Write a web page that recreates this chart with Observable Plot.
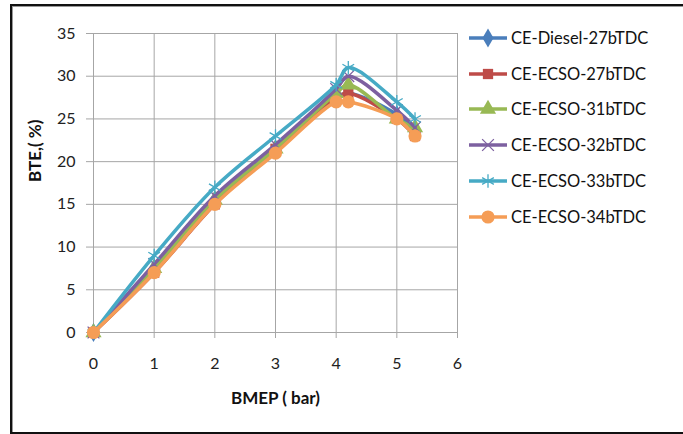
<!DOCTYPE html>
<html>
<head>
<meta charset="utf-8">
<script src="https://cdn.jsdelivr.net/npm/d3@7"></script>
<script src="https://cdn.jsdelivr.net/npm/@observablehq/plot@0.6"></script>
<style>
  html, body { margin: 0; padding: 0; background: #fff; }
  #wrap { position: relative; width: 683px; height: 434px; overflow: hidden; background: #fff; font-family: Lato, "Open Sans", sans-serif; }
  #frame { position: absolute; left: 10px; top: 4px; width: 700px; height: 426px; border: 2px solid #111; box-shadow: inset 1px 1px 0 #999; pointer-events: none; }
  #chart { position: absolute; left: 0; top: 0; }
  #legend { position: absolute; left: 467px; top: 28px; }
  .row { position: absolute; left: 0; height: 20px; white-space: nowrap; }
  .row svg { position: absolute; left: 0; top: 0; }
  .row span { position: absolute; left: 44px; top: 0; font-size: 16.5px; line-height: 20px; color: #111; }
</style>
</head>
<body>
<div id="wrap">
  <div id="chart"></div>
  <div id="legend"></div>
  <div id="frame"></div>
</div>
<script>
// ---- data ----
const bmep = [0, 1, 2, 3, 4, 4.2, 5, 5.3];
const seriesNames = ["CE-Diesel-27bTDC", "CE-ECSO-27bTDC", "CE-ECSO-31bTDC", "CE-ECSO-32bTDC", "CE-ECSO-33bTDC", "CE-ECSO-34bTDC"];
const diesel27 = [0, 7.5, 15.5, 21.5, 27.5, 28, 25.5, 23.5];
const ecso27   = [0, 7,   15,   21.5, 27.5, 28, 25,   23];
const ecso31   = [0, 7.5, 15.5, 21.5, 28,   29, 25,   24];
const ecso32   = [0, 8,   16,   22,   28.5, 30, 26,   24];
const ecso33   = [0, 9,   17,   23,   29,   31, 27,   25];
const ecso34   = [0, 7,   15,   21,   27,   27, 25,   23];
const xTicks = [0, 1, 2, 3, 4, 5, 6];
const yTicks = [0, 5, 10, 15, 20, 25, 30, 35];

const seriesValues = [diesel27, ecso27, ecso31, ecso32, ecso33, ecso34];
const colors = ["#4A7EBB", "#BE4B48", "#98B954", "#7D60A0", "#46AAC5", "#F59D56"];
const symbols = ["diamond", "square", "triangle", "times", "asterisk", "circle"];
const filled = [true, true, true, false, false, true];
const sizes = [5.8, 5.8, 6, 5.4, 6.4, 6.6];

const rows = [];
seriesNames.forEach((name, i) => {
  seriesValues[i].forEach((v, j) => rows.push({series: name, idx: i, x: bmep[j], y: v}));
});

const marks = [
  Plot.gridX(xTicks, {stroke: "#A6A6A6", strokeOpacity: 1, strokeWidth: 1}),
  Plot.gridY(yTicks, {stroke: "#A6A6A6", strokeOpacity: 1, strokeWidth: 1}),
  Plot.ruleY([0], {stroke: "#A6A6A6"}),
  Plot.ruleX([0], {stroke: "#A6A6A6"}),
  Plot.axisX({ticks: xTicks, tickSize: 6, tickPadding: 19, stroke: "#A6A6A6", fontSize: 16, label: null, tickFormat: d => d}),
  Plot.axisY({ticks: yTicks, tickSize: 7, tickPadding: 11, stroke: "#A6A6A6", fontSize: 16, label: null, tickFormat: d => d}),
  Plot.text(["BMEP ( bar)"], {frameAnchor: "bottom", dy: 71, fontSize: 17, fontWeight: "bold", fill: "#111"}),
  Plot.text(["BTE,( %)"], {frameAnchor: "left", dx: -58, dy: -1, rotate: -90, fontSize: 17, fontWeight: "bold", fill: "#111"})
];
seriesNames.forEach((name, i) => {
  const d = rows.filter(r => r.idx === i);
  marks.push(Plot.line(d, {x: "x", y: "y", stroke: colors[i], strokeWidth: 3.5, curve: "catmull-rom"}));
  marks.push(Plot.dot(d, {
    x: "x", y: "y", symbol: () => symbols[i], r: sizes[i],
    fill: filled[i] ? colors[i] : "none",
    stroke: colors[i], strokeWidth: filled[i] ? 0 : 1.3
  }));
});

const chart = Plot.plot({
  width: 683,
  height: 434,
  marginLeft: 93,
  marginRight: 226,
  marginTop: 33,
  marginBottom: 102,
  style: {fontFamily: "Lato, 'Open Sans', sans-serif", color: "#222", background: "#fff"},
  x: {domain: [0, 6]},
  y: {domain: [0, 35]},
  marks
});
document.getElementById("chart").appendChild(chart);

// ---- legend ----
const legend = document.getElementById("legend");
const symGen = {
  diamond: d3.symbolDiamond, square: d3.symbolSquare, triangle: d3.symbolTriangle,
  times: d3.symbolTimes, asterisk: d3.symbolAsterisk, circle: d3.symbolCircle
};
seriesNames.forEach((name, i) => {
  const row = document.createElement("div");
  row.className = "row";
  row.style.top = (i * 35.7) + "px";
  const svg = d3.create("svg").attr("width", 42).attr("height", 20);
  svg.append("line").attr("x1", 2).attr("x2", 40).attr("y1", 10).attr("y2", 10)
    .attr("stroke", colors[i]).attr("stroke-width", 3.5);
  svg.append("path")
    .attr("transform", "translate(21,10)")
    .attr("d", d3.symbol(symGen[symbols[i]], Math.PI * sizes[i] * sizes[i])())
    .attr("fill", filled[i] ? colors[i] : "none")
    .attr("stroke", filled[i] ? "none" : colors[i])
    .attr("stroke-width", 1.3);
  row.appendChild(svg.node());
  const span = document.createElement("span");
  span.textContent = name;
  row.appendChild(span);
  legend.appendChild(row);
});
</script>
</body>
</html>
